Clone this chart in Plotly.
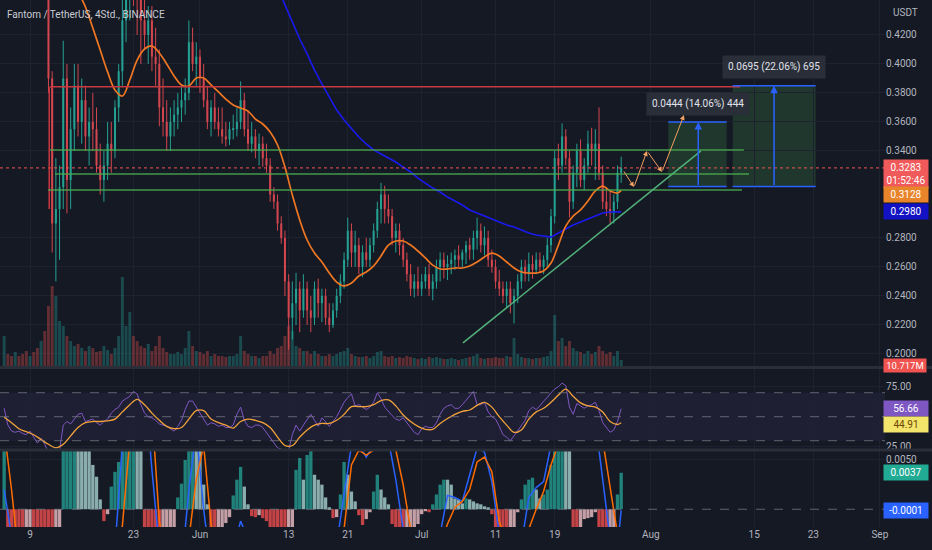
import pandas as pd
import plotly.graph_objects as go

FONT = "Roboto, Arial, sans-serif"
BG = "#151924"
GRID = "#1e2230"
TXT = "#b2b5be"
UP = "#24a092"
DN = "#d2464e"

# FTM/USDT (Binance), 12h candles
start = "2022-05-05 12:00"
first_open = 0.555
close = [
    0.560, 0.545, 0.530, 0.540, 0.520, 0.505, 0.495, 0.500, 0.485, 0.475,
    0.480, 0.455, 0.390, 0.290, 0.300, 0.315, 0.390, 0.320, 0.355, 0.385,
    0.360, 0.375, 0.350, 0.360, 0.355, 0.330, 0.320, 0.330, 0.345, 0.340,
    0.370, 0.395, 0.430, 0.450, 0.460, 0.455, 0.445, 0.430, 0.420, 0.430,
    0.405, 0.400, 0.370, 0.360, 0.350, 0.360, 0.365, 0.370, 0.375, 0.380,
    0.415, 0.400, 0.405, 0.390, 0.375, 0.360, 0.370, 0.360, 0.355, 0.350,
    0.348, 0.355, 0.355, 0.360, 0.375, 0.355, 0.345, 0.350, 0.340, 0.345,
    0.335, 0.330, 0.310, 0.305, 0.290, 0.280, 0.250, 0.225, 0.235, 0.245,
    0.230, 0.245, 0.230, 0.225, 0.245, 0.235, 0.240, 0.225, 0.220, 0.230,
    0.240, 0.250, 0.265, 0.285, 0.270, 0.275, 0.260, 0.270, 0.265, 0.275,
    0.285, 0.300, 0.310, 0.300, 0.295, 0.280, 0.285, 0.275, 0.265, 0.255,
    0.245, 0.250, 0.245, 0.250, 0.255, 0.245, 0.250, 0.260, 0.265, 0.260,
    0.262, 0.265, 0.268, 0.265, 0.270, 0.275, 0.272, 0.280, 0.285, 0.275,
    0.280, 0.265, 0.260, 0.250, 0.245, 0.240, 0.245, 0.235, 0.240, 0.250,
    0.260, 0.255, 0.262, 0.258, 0.265, 0.260, 0.265, 0.275, 0.295, 0.335,
    0.330, 0.350, 0.335, 0.305, 0.325, 0.340, 0.320, 0.330, 0.345, 0.340,
    0.345, 0.325, 0.305, 0.300, 0.297, 0.305, 0.325, 0.3283,
]
high = [
    0.575, 0.565, 0.550, 0.550, 0.545, 0.525, 0.510, 0.515, 0.505, 0.490,
    0.490, 0.485, 0.470, 0.395, 0.335, 0.330, 0.416, 0.400, 0.370, 0.400,
    0.400, 0.390, 0.385, 0.370, 0.380, 0.370, 0.345, 0.340, 0.360, 0.360,
    0.375, 0.400, 0.445, 0.460, 0.470, 0.470, 0.465, 0.455, 0.445, 0.440,
    0.440, 0.425, 0.410, 0.390, 0.375, 0.370, 0.375, 0.380, 0.385, 0.390,
    0.430, 0.425, 0.415, 0.410, 0.400, 0.385, 0.375, 0.380, 0.370, 0.370,
    0.360, 0.360, 0.365, 0.370, 0.388, 0.380, 0.368, 0.360, 0.355, 0.352,
    0.350, 0.345, 0.335, 0.315, 0.310, 0.295, 0.285, 0.255, 0.250, 0.256,
    0.250, 0.255, 0.250, 0.240, 0.250, 0.252, 0.245, 0.245, 0.235, 0.235,
    0.245, 0.255, 0.270, 0.294, 0.290, 0.285, 0.280, 0.275, 0.280, 0.280,
    0.290, 0.305, 0.318, 0.316, 0.310, 0.300, 0.290, 0.290, 0.280, 0.270,
    0.262, 0.255, 0.260, 0.255, 0.260, 0.262, 0.255, 0.265, 0.270, 0.270,
    0.268, 0.270, 0.272, 0.275, 0.272, 0.278, 0.280, 0.285, 0.294, 0.290,
    0.288, 0.285, 0.272, 0.265, 0.258, 0.250, 0.250, 0.250, 0.245, 0.255,
    0.265, 0.265, 0.270, 0.268, 0.270, 0.270, 0.268, 0.280, 0.300, 0.340,
    0.345, 0.359, 0.355, 0.340, 0.330, 0.345, 0.348, 0.335, 0.354, 0.356,
    0.355, 0.370, 0.330, 0.315, 0.312, 0.310, 0.330, 0.336,
]
low = [
    0.535, 0.535, 0.520, 0.520, 0.510, 0.495, 0.485, 0.480, 0.470, 0.465,
    0.455, 0.447, 0.380, 0.270, 0.250, 0.265, 0.300, 0.297, 0.300, 0.340,
    0.350, 0.345, 0.340, 0.330, 0.340, 0.325, 0.310, 0.305, 0.320, 0.325,
    0.335, 0.360, 0.385, 0.415, 0.430, 0.440, 0.420, 0.400, 0.410, 0.400,
    0.395, 0.385, 0.357, 0.350, 0.340, 0.340, 0.350, 0.355, 0.360, 0.365,
    0.375, 0.395, 0.385, 0.380, 0.370, 0.355, 0.350, 0.355, 0.350, 0.345,
    0.343, 0.344, 0.348, 0.350, 0.355, 0.350, 0.340, 0.339, 0.335, 0.330,
    0.329, 0.325, 0.305, 0.300, 0.285, 0.276, 0.240, 0.203, 0.210, 0.220,
    0.215, 0.225, 0.220, 0.215, 0.220, 0.225, 0.222, 0.220, 0.215, 0.218,
    0.225, 0.235, 0.245, 0.260, 0.260, 0.260, 0.255, 0.253, 0.260, 0.260,
    0.270, 0.280, 0.290, 0.290, 0.290, 0.275, 0.270, 0.268, 0.260, 0.250,
    0.240, 0.239, 0.240, 0.240, 0.245, 0.240, 0.237, 0.245, 0.250, 0.252,
    0.251, 0.255, 0.258, 0.260, 0.260, 0.262, 0.265, 0.265, 0.272, 0.270,
    0.268, 0.260, 0.256, 0.245, 0.240, 0.235, 0.232, 0.228, 0.221, 0.235,
    0.245, 0.250, 0.250, 0.252, 0.255, 0.256, 0.255, 0.260, 0.270, 0.290,
    0.320, 0.325, 0.330, 0.294, 0.300, 0.315, 0.315, 0.313, 0.325, 0.330,
    0.320, 0.320, 0.300, 0.295, 0.290, 0.290, 0.300, 0.318,
]
volume_m = [
    60, 24, 20, 28, 20, 24, 30, 20, 28, 36,
    50, 70, 120, 160, 140, 90, 80, 60, 50, 40,
    44, 36, 30, 40, 36, 28, 30, 40, 32, 24,
    36, 60, 178, 80, 108, 60, 50, 40, 36, 44,
    30, 40, 60, 36, 28, 24, 24, 28, 24, 36,
    70, 40, 30, 28, 24, 30, 20, 24, 20, 20,
    18, 20, 20, 24, 60, 30, 24, 20, 20, 16,
    20, 20, 30, 24, 36, 40, 60, 80, 70, 40,
    36, 30, 30, 24, 30, 24, 20, 20, 24, 20,
    24, 28, 30, 36, 24, 20, 18, 18, 20, 16,
    20, 28, 30, 20, 18, 20, 16, 18, 16, 20,
    18, 16, 14, 16, 14, 18, 16, 18, 16, 14,
    14, 16, 14, 12, 14, 16, 18, 20, 24, 16,
    14, 16, 16, 18, 16, 16, 20, 18, 56, 24,
    18, 16, 16, 14, 16, 16, 18, 20, 30, 102,
    50, 56, 40, 50, 36, 30, 28, 24, 30, 24,
    28, 40, 30, 24, 28, 20, 30, 12,
]
rsi = [
    57, 43, 38, 37, 38, 36, 35, 38, 33, 28,
    32, 27, 20, 15, 16, 22, 43, 46, 44, 48,
    52, 53, 46, 47, 48, 45, 43, 46, 48, 53,
    56, 58, 63, 65, 67, 71, 69, 60, 53, 50,
    49, 47, 44, 43, 42, 40, 38, 42, 47, 56,
    63, 63, 58, 53, 49, 43, 45, 44, 42, 43,
    41, 41, 43, 52, 58, 47, 42, 41, 43, 43,
    41, 37, 33, 28, 24, 23, 21, 22, 35, 43,
    38, 43, 48, 52, 47, 42, 49, 46, 42, 46,
    50, 56, 62, 66, 69, 59, 60, 58, 56, 58,
    62, 70, 65, 58, 54, 51, 48, 47, 49, 45,
    41, 37, 35, 40, 42, 41, 41, 45, 52, 57,
    59, 60, 57, 57, 60, 64, 67, 71, 60, 60,
    62, 54, 50, 48, 42, 35, 33, 30, 34, 38,
    42, 47, 55, 58, 56, 59, 63, 66, 70, 73,
    75, 78, 76, 58, 52, 61, 59, 57, 59, 60,
    62, 55, 45, 41, 37, 39, 46, 56.66,
]
# MACD histogram, in units of 0.001
macd_hist = [
    8, -2, -4, -5, -6, -6, -5, -4, -4.5, -6,
    -8, -10, -14, -18, -16, -10, 6, 10, 12, 13,
    12, 11, 9, 6, 4.5, 3.3, 1.0, -1.2, -0.5, 2.3,
    3.8, 4.8, 6, 8, 10, 11, 9, 6, -2, -4,
    -6, -8, -9, -8, -6, -4, -2, 1.2, 2.6, 5,
    8, 10, 9, 7, 2.5, 0.5, -3, -5, -4, -2.5,
    -1.4, -0.8, 1.4, 3, 4.3, 2.3, 0.5, -0.7, -0.8, -0.6,
    -0.9, -1.2, -3, -5, -7, -9, -10, -8, -4, 4.0,
    5.2, 3.0, 5.5, 6.5, 3.5, 3.0, 2.5, 1.2, 0.2, -0.9,
    -0.8, 1.5, 4.8, 3.5, 1.8, 0.8, -0.6, -1.6, -1.0, -0.3,
    1.8, 3.5, 2.0, 1.2, 0.5, -1.5, -2.5, -3, -3, -2.5,
    -2.2, -2.0, -1.5, -0.5, -0.2, -0.3, 0.5, 1.5, 2.5, 3.0,
    3.0, 2.5, 1.1, 1.0, 0.6, 1.1, 1.0, 0.8, 0.6, 0.5,
    0.3, 0.2, -0.5, -2, -3, -3.5, -3.5, -3, -2.2, -0.3,
    1.0, 2.5, 3.0, 3.2, 2.0, 1.1, 1.5, 2.0, 4.5, 7,
    10, 12, 11, 7, -2, -3, -2.5, -1.0, -0.9, -0.8,
    -0.3, -2, -3.5, -4, -3.5, -2.5, 1.5, 3.7,
]

# smooth lines, one value per day (every second candle) plus the last candle
ema_fast = [
    0.560, 0.550, 0.540, 0.530, 0.520, 0.510, 0.500, 0.485, 0.470, 0.460,
    0.450, 0.4393, 0.4248, 0.4096, 0.3945, 0.382, 0.3779, 0.3889, 0.4027, 0.4103,
    0.4124, 0.4076, 0.400, 0.3917, 0.3855, 0.3848, 0.3903, 0.3903, 0.3855, 0.3807,
    0.3758, 0.3717, 0.3696, 0.3675, 0.362, 0.3586, 0.3531, 0.3441, 0.3289, 0.3096,
    0.2924, 0.2786, 0.2696, 0.2634, 0.2558, 0.2496, 0.2469, 0.2489, 0.2538, 0.2565,
    0.2607, 0.2676, 0.2751, 0.2779, 0.2779, 0.2751, 0.271, 0.2662, 0.2613, 0.2586,
    0.2586, 0.2593, 0.2593, 0.2607, 0.2634, 0.2669, 0.2696, 0.2676, 0.2634, 0.2593,
    0.2565, 0.2558, 0.2558, 0.2572, 0.2627, 0.2751, 0.2882, 0.2951, 0.2993, 0.3055,
    0.3124, 0.3158, 0.3124, 0.311, 0.3128,
]
ema_slow = [None] * 34 + [
    0.495, 0.481, 0.467, 0.4535, 0.4407, 0.4289, 0.4172, 0.4069, 0.3958, 0.3862,
    0.3772, 0.3682, 0.3613, 0.3551, 0.3496, 0.3448, 0.3407, 0.3379, 0.3351, 0.3324,
    0.3289, 0.3255, 0.3213, 0.3179, 0.3144, 0.3117, 0.3082, 0.3055, 0.3027, 0.2993,
    0.2972, 0.2951, 0.293, 0.291, 0.2889, 0.2875, 0.2855, 0.2834, 0.282, 0.2813,
    0.2806, 0.2834, 0.2862, 0.2889, 0.291, 0.293, 0.2951, 0.2972, 0.2979, 0.2979,
    0.2980,
]
rsi_ma = [
    49.5, 45, 40, 37.5, 35, 31, 27, 24, 27, 34,
    41, 45, 46, 46, 46.5, 48, 54, 60, 64.5, 60,
    53, 47, 42, 40, 41, 48, 55, 55, 48, 45,
    43, 40.5, 46, 48, 47, 45, 41, 33, 26, 26,
    33, 39, 43, 44.4, 44.4, 47, 52, 58.4, 58.4, 58.4,
    60, 63.5, 64, 59, 51.4, 46, 42, 39.5, 39.5, 44.4,
    48.5, 52, 54.5, 55.6, 59.5, 62, 58, 50, 43, 37,
    39, 48, 54, 57, 62, 68, 73, 67, 61.5, 59,
    58, 54, 46, 43.5, 44.91,
]
macd_line = [
    2, -6, -10, -12, -13, -15, -20, -28, -26, -20,
    -15, -11, -8, -6, -4, -4, 6.5, 12, 15, 13,
    4, -4, -8, -9, -6, 2, 8, 0, -6, -8,
    -7, -4, -1.2, -3, -5, -6, -8, -12, -18, -22,
    -20, -15, -11, -8, -6, -3.5, 1.5, 6.5, 6.5, 5.3,
    6.5, 8, 7, 3, -2, -5, -6, -5, -4, -2.5,
    1.4, 1.2, 0.8, 3.5, 6.2, 5.8, 2.8, -2.5, -5, -6,
    -3.5, 1.2, 2.2, 2.8, 6.5, 10, 14, 15, 14, 12,
    9, 3, -3, -4, -0.1,
]
signal_line = [
    8, 2, -5, -9, -11, -12, -15, -20, -22, -21,
    -18, -15, -12, -9, -7, -5, -1.7, 7, 10, 12,
    10, -1.2, -5, -7, -7, -3, 3, 6.5, -1.5, -5,
    -6, -5, -3, -3, -4, -5, -6, -9, -13, -17,
    -18, -17, -14, -11, -8.5, -6, -2, 4.5, 6, 5.5,
    6, 7, 7.5, 6, 2.5, -2, -4, -5, -4.5, -3.5,
    -1.5, 0.2, 0.8, 2.0, 4.8, 5.3, 3.8, -1.2, -3.5, -5,
    -4.5, -2, 0, 1.8, 4.5, 7, 10, 12, 13, 12,
    10, 7, 2, -2.5, -3,
]

tick_dates = ["2022-05-09", "2022-05-23", "2022-06-01", "2022-06-13", "2022-06-21", "2022-07-01",
              "2022-07-11", "2022-07-19", "2022-08-01", "2022-08-15", "2022-08-23", "2022-09-01"]
tick_text = ["9", "23", "Jun", "13", "21", "Jul", "11", "19", "Aug", "15", "23", "Sep"]
# 0.3000 and 0.3200 sit under the last-value tags, so the scale does not show them
price_ticks = [0.20, 0.22, 0.24, 0.26, 0.28, 0.34, 0.36, 0.38, 0.40, 0.42]

n = len(close)
assert len(high) == n and len(low) == n and len(volume_m) == n and len(rsi) == n and len(macd_hist) == n
t = pd.date_range(start, periods=n, freq="12h")
lt = list(t[::2]) + [t[-1]]
for s in (ema_fast, ema_slow, rsi_ma, macd_line, signal_line):
    assert len(s) == len(lt)

opens = [first_open] + close[:-1]
base = pd.Timestamp("2022-05-09")


def day(d):
    return base + pd.Timedelta(days=d)


up = [c >= o for o, c in zip(opens, close)]
vol_colors = ["rgba(38,166,154,0.35)" if u else "rgba(239,83,80,0.35)" for u in up]
hist_colors = []
prev = 0
for h in macd_hist:
    if h >= 0:
        hist_colors.append("#26a69a" if h > prev else "#b2dfdb")
    else:
        hist_colors.append("#ffcdd2" if h > prev else "#ff5252")
    prev = h

half_day_ms = 12 * 3600 * 1000

fig = go.Figure()
fig.add_trace(go.Bar(x=t, y=volume_m, marker_color=vol_colors, marker_line_width=0, width=half_day_ms * 0.8,
                     xaxis="x", yaxis="y4", hoverinfo="skip"))

# candles: wicks as line segments, bodies as floating bars
for flag, col in ((True, UP), (False, DN)):
    wx, wy = [], []
    for ti, hi, lo, u in zip(t, high, low, up):
        if u == flag:
            wx += [ti, ti, None]
            wy += [lo, hi, None]
    fig.add_trace(go.Scatter(x=wx, y=wy, mode="lines", line=dict(color=col, width=1),
                             xaxis="x", yaxis="y", hoverinfo="skip"))
fig.add_trace(go.Bar(x=t, y=[max(abs(c - o), 0.0008) for o, c in zip(opens, close)],
                     base=[min(o, c) for o, c in zip(opens, close)],
                     marker_color=[UP if u else DN for u in up], marker_line_width=0,
                     width=half_day_ms * 0.55, xaxis="x", yaxis="y", hoverinfo="skip"))

fig.add_trace(go.Scatter(x=lt, y=ema_slow, mode="lines", line=dict(color="#1a1af0", width=1.6),
                         xaxis="x", yaxis="y", hoverinfo="skip"))
fig.add_trace(go.Scatter(x=lt, y=ema_fast, mode="lines", line=dict(color="#ef7622", width=1.7, shape="spline"),
                         xaxis="x", yaxis="y", hoverinfo="skip"))

# RSI pane
fig.add_trace(go.Scatter(x=t, y=rsi, mode="lines", line=dict(color="#7e57c2", width=1),
                         xaxis="x2", yaxis="y2", hoverinfo="skip"))
fig.add_trace(go.Scatter(x=lt, y=rsi_ma, mode="lines", line=dict(color="#f2a23a", width=1.3, shape="spline"),
                         xaxis="x2", yaxis="y2", hoverinfo="skip"))

# MACD pane
fig.add_trace(go.Bar(x=t, y=[v / 1000 for v in macd_hist], marker_color=hist_colors, marker_line_width=0,
                     opacity=0.75, width=half_day_ms * 0.9, xaxis="x3", yaxis="y3", hoverinfo="skip"))
fig.add_trace(go.Scatter(x=lt, y=[v / 1000 for v in macd_line], mode="lines",
                         line=dict(color="#2962ff", width=1.5), xaxis="x3", yaxis="y3", hoverinfo="skip"))
fig.add_trace(go.Scatter(x=lt, y=[v / 1000 for v in signal_line], mode="lines",
                         line=dict(color="#ff6d00", width=1.5), xaxis="x3", yaxis="y3", hoverinfo="skip"))

xr = [day(-4.06), day(115.7)]
xax = dict(type="date", range=xr, showgrid=True, gridcolor=GRID, gridwidth=1, zeroline=False,
           tickvals=tick_dates, ticktext=tick_text, showticklabels=False, ticks="", showline=False)

shapes = []


def seg(x0, x1, y0, y1, color, width=1.5, dash="solid", xref="x", yref="y"):
    shapes.append(dict(type="line", xref=xref, yref=yref, x0=x0, x1=x1, y0=y0, y1=y1,
                       line=dict(color=color, width=width, dash=dash)))


# pane backgrounds / guides
shapes.append(dict(type="rect", xref="x2 domain", yref="y2", x0=0, x1=1, y0=30, y1=70,
                   fillcolor="rgba(126,87,194,0.10)", line_width=0, layer="below"))
for lvl in (70, 50, 30):
    seg(0, 1, lvl, lvl, "rgba(120,123,134,0.75)", 1, "dash", "x2 domain", "y2")
seg(0, 1, 0, 0, "rgba(120,123,134,0.75)", 1, "dash", "x3 domain", "y3")
seg(0, 1, 0.3283, 0.3283, "#ef5350", 1, "dot", "x domain", "y")
for yy in (0.3027, 0.1461):
    seg(0, 1.06, yy, yy, "#2a2e39", 3, "solid", "paper", "paper")

# drawings on the price pane
seg(day(2.71), day(96.1), 0.3843, 0.3843, "#c8383f", 1.5)
seg(day(2.6), day(2.6), 0.3843, 0.300, "#c8383f", 1.5)
seg(day(2.71), day(96.6), 0.3407, 0.3407, "rgba(76,175,80,0.85)", 1.5)
seg(day(3.38), day(97.3), 0.3241, 0.3241, "rgba(76,175,80,0.85)", 1.5)
seg(day(2.44), day(96.35), 0.3131, 0.3131, "rgba(76,175,80,0.85)", 1.5)
seg(day(58.59), day(90.80), 0.2076, 0.3400, "#52b07a", 1.5)

for x0, x1 in ((86.37, 94.28), (95.09, 106.32)):
    top = 0.3599 if x0 < 90 else 0.3850
    shapes.append(dict(type="rect", xref="x", yref="y", x0=day(x0), x1=day(x1), y0=0.3155, y1=top,
                       fillcolor="rgba(76,175,80,0.20)", line_width=0, layer="below"))
    seg(day(x0), day(x1), top, top, "#2962ff", 1.5)
    seg(day(x0), day(x1), 0.3155, 0.3155, "#2962ff", 1.5)

ann = []
# measure arrows and labels
for xd, top in ((90.43, 0.3599), (100.69, 0.3850)):
    ann.append(dict(xref="x", yref="y", axref="x", ayref="y", x=day(xd), y=top, ax=day(xd), ay=0.3155,
                    showarrow=True, arrowhead=2, arrowsize=1, arrowwidth=1.5, arrowcolor="#2962ff", text=""))
for xd, yv, txt in ((90.39, 0.3727, "0.0444 (14.06%) 444"), (100.74, 0.3982, "0.0695 (22.06%) 695")):
    ann.append(dict(xref="x", yref="y", x=day(xd), y=yv, text=txt, showarrow=False, bgcolor="#2a2e39",
                    borderpad=5, font=dict(family=FONT, size=10, color="#e0e3eb")))

# projected zigzag path
path = [(80.24, 0.3269), (81.73, 0.3151), (83.49, 0.3400), (85.52, 0.3255), (88.5, 0.3648)]
for (d0, p0), (d1, p1) in zip(path[:-1], path[1:]):
    ann.append(dict(xref="x", yref="y", axref="x", ayref="y", x=day(d1), y=p1, ax=day(d0), ay=p0,
                    showarrow=True, arrowhead=2, arrowsize=1, arrowwidth=1, arrowcolor="#f0a060", text=""))


def side_label(text, y, yref, bg, fg="#ffffff", yshift=0, size=10, pad=2):
    ann.append(dict(xref="paper", x=1, xanchor="left", xshift=-2, yref=yref, y=y, yanchor="middle",
                    yshift=yshift, text=text, showarrow=False, bgcolor=bg, borderpad=pad, width=40,
                    align="center", font=dict(family=FONT, size=size, color=fg)))


side_label("10.717M", 0.1920, "y", "#f05350", size=9.5, pad=1)
side_label("0.3283<br>01:52:46", 0.3283, "y", "#f05a5a", yshift=-6)
side_label("0.3128", 0.3128, "y", "#e8842a", yshift=-4)
side_label("0.2980", 0.2980, "y", "#1212c4")
side_label("56.66", 56.66, "y2", "#7e57c2")
side_label("44.91", 44.91, "y2", "#f3e46c", fg="#6d4500", yshift=-2)
side_label("0.0037", 0.0037, "y3", "#22ab94")
side_label("-0.0001", -0.0001, "y3", "#2962ff")

ann.append(dict(xref="paper", x=1, xanchor="left", xshift=6, yref="paper", y=1, yanchor="top", yshift=-5,
                text="USDT", showarrow=False, font=dict(family=FONT, size=10, color=TXT)))
ann.append(dict(xref="paper", x=0, xanchor="left", xshift=5, yref="paper", y=1, yanchor="top", yshift=-7,
                text="Fantom / TetherUS, 4Std., BINANCE", showarrow=False,
                font=dict(family=FONT, size=10, color="#c9ccd3")))

fig.update_layout(
    width=932, height=550,
    margin=dict(l=0, r=47, t=0, b=23),
    paper_bgcolor=BG, plot_bgcolor=BG,
    showlegend=False, barmode="overlay",
    font=dict(family=FONT, size=10, color=TXT),
    xaxis=dict(xax, anchor="y", rangeslider=dict(visible=False)),
    xaxis2=dict(xax, anchor="y2", matches="x"),
    xaxis3=dict(xax, anchor="y3", matches="x", showticklabels=True,
                tickfont=dict(family=FONT, size=10, color=TXT)),
    yaxis4=dict(domain=[0.3055, 1], range=[0, 732], anchor="x", visible=False, fixedrange=True),
    yaxis=dict(domain=[0.3055, 1], range=[0.1917, 0.4441], overlaying="y4", side="right", anchor="x",
               tickvals=price_ticks, tickformat=".4f", showgrid=True, gridcolor=GRID, zeroline=False,
               ticks="", tickfont=dict(family=FONT, size=10, color=TXT)),
    yaxis2=dict(domain=[0.148, 0.2998], range=[23.08, 89.75], side="right", anchor="x2",
                tickvals=[25, 75], ticktext=["25.00", "75.00"], showgrid=True, gridcolor=GRID,
                zeroline=False, ticks="", tickfont=dict(family=FONT, size=10, color=TXT)),
    yaxis3=dict(domain=[0, 0.1442], range=[-0.0018, 0.00591], side="right", anchor="x3",
                tickvals=[0.005], ticktext=["0.0050"], showgrid=True, gridcolor=GRID,
                zeroline=False, ticks="", tickfont=dict(family=FONT, size=10, color=TXT)),
    shapes=shapes,
    annotations=ann,
)

# the page body has a default 8px margin; remove it so the figure sits at the window corner
fig.write_html("out.html", config={"displayModeBar": False},
               post_script="document.body.style.margin='0px';")
